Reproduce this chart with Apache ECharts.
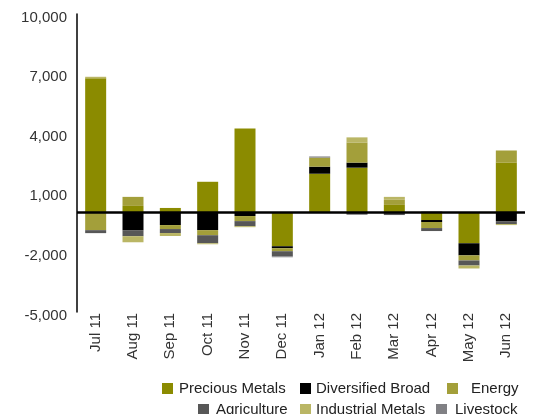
<!DOCTYPE html>
<html>
<head>
<meta charset="utf-8">
<script src="https://cdn.jsdelivr.net/npm/echarts@6/dist/echarts.min.js"></script>
<style>html,body{margin:0;padding:0;background:#fff;}#c{width:536px;height:414px;}</style>
</head>
<body>
<div id="c"></div>
<script>
const categories = ['Jul 11','Aug 11','Sep 11','Oct 11','Nov 11','Dec 11','Jan 12','Feb 12','Mar 12','Apr 12','May 12','Jun 12'];
const preciousMetals = [6760, 340, 237, 1555, 4240, -1690, 1960, 2265, 390, -370, -1540, 2520];
const diversifiedBroad = [0, -880, -625, -880, -170, -100, 355, 255, 0, -100, -610, -425];
const energy = [-880, 455, -200, -255, -255, -150, 455, 1015, 255, -305, -255, 610];
const agriculture = [-150, -305, -200, -405, -255, -255, 0, -100, -120, -150, -255, -150];
const industrialMetals = [80, -305, -150, -50, -50, 0, 0, 255, 150, 0, -150, -50];
const livestock = [0, 0, 0, 0, 0, -50, 60, 0, 0, 60, 0, 0];
const yTicks = {min: -5000, max: 10000, interval: 3000};

const seriesDefs = [
  {name: 'Precious Metals', data: preciousMetals, color: '#8b8b00'},
  {name: 'Diversified Broad', data: diversifiedBroad, color: '#000000'},
  {name: 'Energy', data: energy, color: '#a39f3a'},
  {name: 'Agriculture', data: agriculture, color: '#575757'},
  {name: 'Industrial Metals', data: industrialMetals, color: '#bab665'},
  {name: 'Livestock', data: livestock, color: '#808084'}
];

const font = 'Liberation Sans, Arial, Helvetica, sans-serif';
const legendPos = [
  {name: 'Precious Metals', left: 162, top: 381, gap: 1},
  {name: 'Diversified Broad', left: 300, top: 381, gap: 0},
  {name: 'Energy', left: 447, top: 381, gap: 8},
  {name: 'Agriculture', left: 198, top: 402, gap: 2},
  {name: 'Industrial Metals', left: 300, top: 402, gap: 0},
  {name: 'Livestock', left: 436, top: 402, gap: 3}
];

const chart = echarts.init(document.getElementById('c'), null, {renderer: 'canvas'});
const series = seriesDefs.map((s, i) => {
  const o = {
    name: s.name,
    type: 'bar',
    stack: 'total',
    barWidth: 21,
    data: s.data,
    itemStyle: {color: s.color},
    emphasis: {disabled: true}
  };
  if (i === seriesDefs.length - 1) {
    o.markLine = {
      symbol: 'none',
      silent: true,
      label: {show: false},
      lineStyle: {color: '#000', width: 2.5, type: 'solid'},
      data: [{yAxis: 0}]
    };
  }
  return o;
});

chart.setOption({
  animation: false,
  backgroundColor: '#fff',
  textStyle: {fontFamily: font},
  grid: {left: 77, right: 11, top: 14, bottom: 102},
  legend: legendPos.map(l => ({
    data: [l.name],
    left: l.left,
    top: l.top,
    icon: 'rect',
    itemWidth: 11,
    itemHeight: 11,
    padding: 0,
    selectedMode: false,
    textStyle: {fontSize: 15, color: '#222', fontFamily: font, padding: [0, 0, 0, l.gap]}
  })),
  xAxis: {
    type: 'category',
    data: categories,
    axisLine: {show: false},
    axisTick: {show: false},
    axisLabel: {rotate: 90, fontSize: 15, color: '#333', margin: 1, fontFamily: font}
  },
  yAxis: {
    type: 'value',
    min: yTicks.min,
    max: yTicks.max,
    interval: yTicks.interval,
    splitLine: {show: false},
    axisTick: {show: false},
    axisLine: {show: true, lineStyle: {color: '#000', width: 1.5}},
    axisLabel: {
      fontSize: 15, color: '#333', margin: 10, fontFamily: font,
      verticalAlign: 'top',
      lineHeight: 7,
      formatter: v => v.toLocaleString('en-US')
    }
  },
  series: series
});
</script>
</body>
</html>
